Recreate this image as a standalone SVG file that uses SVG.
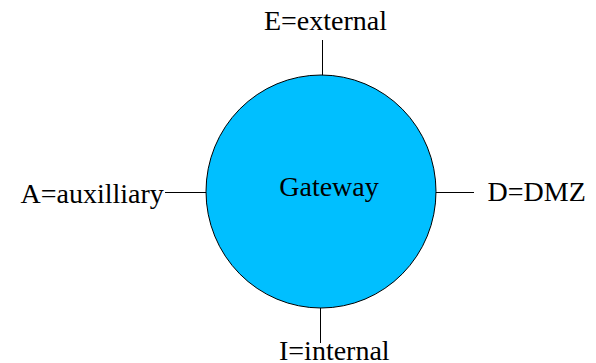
<svg xmlns="http://www.w3.org/2000/svg" width="596" height="363" viewBox="0 0 596 363">
<style>
text{font-family:"Liberation Serif","Times New Roman",serif;font-size:28px;fill:#000}
.c{stroke:#000;stroke-width:1;fill:none}
</style>
<rect width="596" height="363" fill="#fff"/>
<g id="connectors">
<line class="c" x1="322.5" y1="40" x2="322.5" y2="76"/>
<line class="c" x1="165" y1="192.5" x2="206" y2="192.5"/>
<line class="c" x1="436" y1="192.5" x2="474" y2="192.5"/>
<line class="c" x1="320.5" y1="307" x2="320.5" y2="343"/>
</g>
<g id="gateway">
<ellipse cx="321" cy="191.5" rx="115" ry="116.5" fill="#00BFFF" stroke="#000" stroke-width="1"/>
<text x="329" y="196" text-anchor="middle">Gateway</text>
</g>
<g id="external"><text x="325.5" y="30" text-anchor="middle">E=external</text></g>
<g id="auxilliary"><text x="20.5" y="203">A=auxilliary</text></g>
<g id="dmz"><text x="487.5" y="201">D=DMZ</text></g>
<g id="internal"><text x="279" y="360">I=internal</text></g>
</svg>
